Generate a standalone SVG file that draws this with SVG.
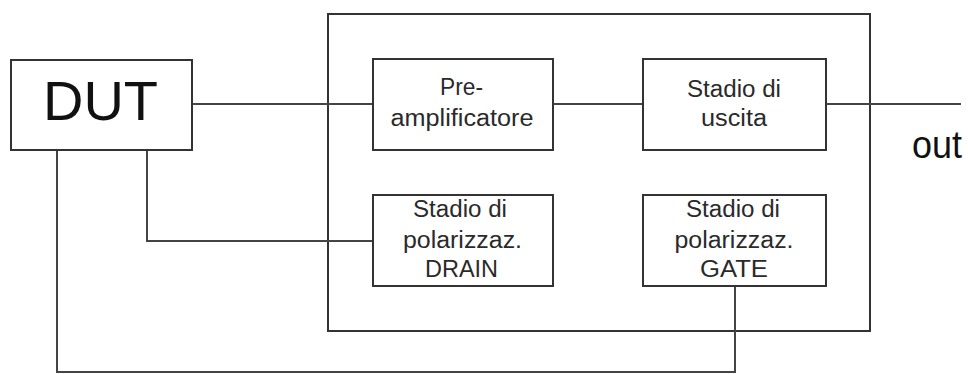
<svg xmlns="http://www.w3.org/2000/svg" width="968" height="374" viewBox="0 0 968 374">
<style>
.box{fill:#fff;stroke:#333;stroke-width:2}
.frame{fill:none;stroke:#333;stroke-width:2}
.wire{fill:none;stroke:#444;stroke-width:2}
.t{font-family:"Liberation Sans",Arial,sans-serif;font-size:23px;fill:#2a2a2a;text-anchor:middle}
.big{font-family:"Liberation Sans",Arial,sans-serif;fill:#111}
</style>
<rect width="968" height="374" fill="#fff"/>
<g id="frame"><rect class="frame" x="328" y="14" width="542" height="317"/></g>
<g id="connectors">
<path class="wire" d="M192 104H373"/>
<path class="wire" d="M553 104H643"/>
<path class="wire" d="M826 104H961"/>
<path class="wire" d="M147 150V241H373"/>
<path class="wire" d="M57 150V372H735V286"/>
</g>
<g id="dut">
<rect class="box" x="11" y="60" width="181" height="90"/>
<text class="big" x="100.5" y="120" font-size="56" text-anchor="middle" textLength="115" lengthAdjust="spacingAndGlyphs">DUT</text>
</g>
<g id="preamp">
<rect class="box" x="373" y="59" width="180" height="91"/>
<text class="t" x="461.5" y="95" textLength="43" lengthAdjust="spacingAndGlyphs">Pre-</text>
<text class="t" x="462" y="126" textLength="143" lengthAdjust="spacingAndGlyphs">amplificatore</text>
</g>
<g id="uscita">
<rect class="box" x="643" y="59" width="183" height="91"/>
<text class="t" x="734" y="97" textLength="94" lengthAdjust="spacingAndGlyphs">Stadio di</text>
<text class="t" x="734" y="126" textLength="66" lengthAdjust="spacingAndGlyphs">uscita</text>
</g>
<g id="drain">
<rect class="box" x="373" y="195" width="180" height="91"/>
<text class="t" x="460" y="217" textLength="94" lengthAdjust="spacingAndGlyphs">Stadio di</text>
<text class="t" x="462.5" y="248" textLength="119" lengthAdjust="spacingAndGlyphs">polarizzaz.</text>
<text class="t" x="461.5" y="277" textLength="73" lengthAdjust="spacingAndGlyphs">DRAIN</text>
</g>
<g id="gate">
<rect class="box" x="643" y="195" width="183" height="91"/>
<text class="t" x="733" y="217" textLength="94" lengthAdjust="spacingAndGlyphs">Stadio di</text>
<text class="t" x="734" y="248" textLength="119" lengthAdjust="spacingAndGlyphs">polarizzaz.</text>
<text class="t" x="734" y="277" textLength="68" lengthAdjust="spacingAndGlyphs">GATE</text>
</g>
<g id="out">
<text class="big" x="912" y="158" font-size="38" textLength="50" lengthAdjust="spacingAndGlyphs">out</text>
</g>
</svg>
